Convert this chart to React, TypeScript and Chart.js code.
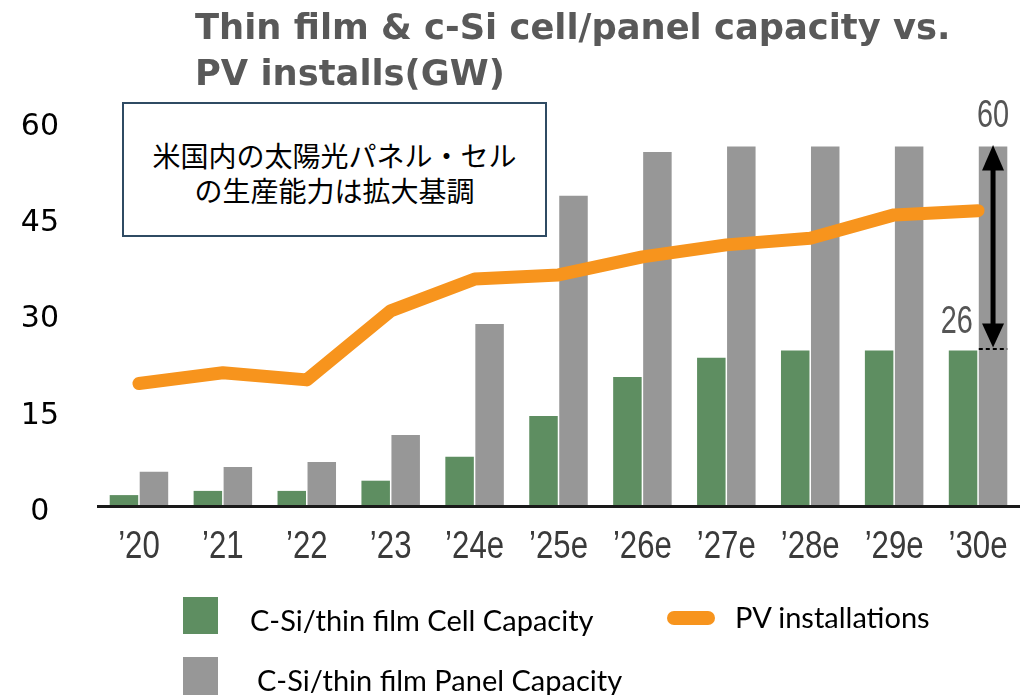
import React, { useEffect, useRef } from "react";
import { Chart, registerables } from "chart.js";

Chart.register(...registerables);

// ---- data ----
const categories = ["’20", "’21", "’22", "’23", "’24e", "’25e", "’26e", "’27e", "’28e", "’29e", "’30e"];
const cellCapacity = [1.9, 2.6, 2.6, 4.3, 8.3, 15.1, 21.6, 24.8, 26, 26, 26];
const panelCapacity = [5.8, 6.6, 7.4, 11.9, 30.4, 51.8, 59.1, 60, 60, 60, 60];
const pvInstallations = [20.5, 22.3, 21.1, 32.6, 37.9, 38.6, 41.6, 43.6, 44.7, 48.6, 49.3];
const yTickLabels = [0, 15, 30, 45, 60];
const gapAnnotation = [60, 26];

const titleLines = ["Thin film & c-Si cell/panel capacity vs.", "PV installs(GW)"];
const noteLines = ["米国内の太陽光パネル・セル", "の生産能力は拡大基調"];
const seriesNames = ["C-Si/thin film Cell Capacity", "C-Si/thin film Panel Capacity", "PV installations"];

const GREEN = "#5e8e61";
const GREY = "#979797";
const ORANGE = "#f7941d";
const SANS = "'Liberation Sans', Arial, sans-serif";

// condensed text helper (emulates a narrow face)
function narrowText(ctx: any, text: string, x: number, y: number, size: number, sx: number, align: string) {
  ctx.save();
  ctx.translate(x, y);
  ctx.scale(sx, 1);
  ctx.font = `${size}px ${SANS}`;
  ctx.textAlign = align;
  ctx.textBaseline = "alphabetic";
  ctx.fillText(text, 0, 0);
  ctx.restore();
}

const narrowXLabels = {
  id: "narrowXLabels",
  afterDraw(chart: any) {
    const xs = chart.scales.x;
    const ctx = chart.ctx;
    ctx.save();
    ctx.fillStyle = "#3a3a3a";
    xs.ticks.forEach((t: any, i: number) => {
      const px = xs.getPixelForTick(i);
      narrowText(ctx, String(xs.getLabelForValue(t.value)), px, xs.top + 44, 39, 0.8, "center");
    });
    ctx.restore();
  },
};

const gapPlugin = {
  id: "gapArrow",
  afterDatasetsDraw(chart: any) {
    const ctx = chart.ctx;
    const y = chart.scales.y;
    const meta = chart.getDatasetMeta(2);
    const idx = categories.length - 1;
    const bar: any = meta.data[idx];
    if (!bar) return;
    const x = bar.x;
    const w = bar.width;
    const yTop = y.getPixelForValue(gapAnnotation[0]);
    const yBot = y.getPixelForValue(gapAnnotation[1]);
    ctx.save();
    ctx.fillStyle = "#000";
    ctx.strokeStyle = "#000";
    ctx.lineWidth = 5;
    ctx.beginPath();
    ctx.moveTo(x, yTop + 20);
    ctx.lineTo(x, yBot - 22);
    ctx.stroke();
    ctx.beginPath();
    ctx.moveTo(x, yTop - 1.5);
    ctx.lineTo(x - 11, yTop + 24);
    ctx.lineTo(x + 11, yTop + 24);
    ctx.closePath();
    ctx.fill();
    ctx.beginPath();
    ctx.moveTo(x, yBot - 3);
    ctx.lineTo(x - 11, yBot - 27);
    ctx.lineTo(x + 11, yBot - 27);
    ctx.closePath();
    ctx.fill();
    ctx.setLineDash([4, 3]);
    ctx.lineWidth = 2;
    ctx.beginPath();
    ctx.moveTo(x - w / 2, yBot - 1.5);
    ctx.lineTo(x + w / 2, yBot - 1.5);
    ctx.stroke();
    ctx.setLineDash([]);
    ctx.fillStyle = "#555555";
    narrowText(ctx, String(gapAnnotation[0]), x, yTop - 19.5, 38, 0.76, "center");
    narrowText(ctx, String(gapAnnotation[1]), x - w / 2 - 6, yBot - 17.5, 38, 0.76, "right");
    ctx.restore();
  },
};

export default function App() {
  const canvasRef = useRef<HTMLCanvasElement | null>(null);

  useEffect(() => {
    const canvas = canvasRef.current;
    if (!canvas) return;
    const chart = new Chart(canvas, {
      type: "bar",
      data: {
        labels: categories,
        datasets: [
          {
            type: "line",
            label: seriesNames[2],
            data: pvInstallations,
            borderColor: ORANGE,
            backgroundColor: ORANGE,
            borderWidth: 13,
            pointRadius: 0,
            tension: 0,
            borderCapStyle: "round",
            borderJoinStyle: "round",
            yAxisID: "y",
            order: 0,
          } as any,
          {
            type: "bar",
            label: seriesNames[0],
            data: cellCapacity,
            backgroundColor: GREEN,
            yAxisID: "y",
            order: 1,
            categoryPercentage: 0.715,
            barPercentage: 0.95,
          },
          {
            type: "bar",
            label: seriesNames[1],
            data: panelCapacity,
            backgroundColor: GREY,
            yAxisID: "y",
            order: 1,
            categoryPercentage: 0.715,
            barPercentage: 0.95,
          },
        ],
      },
      options: {
        responsive: false,
        animation: false,
        devicePixelRatio: 1,
        layout: { padding: { left: 0, right: 9, top: 110, bottom: 121 } },
        plugins: { legend: { display: false }, tooltip: { enabled: false } },
        scales: {
          x: {
            offset: true,
            grid: { display: false, drawTicks: false },
            border: { display: false },
            ticks: { display: false, autoSkip: false, maxRotation: 0 },
            afterFit: (s: any) => {
              s.height = 60;
            },
          },
          y: {
            position: "left",
            min: -1.25,
            max: 66.08,
            ticks: { display: false },
            grid: { drawTicks: false, lineWidth: 3, color: "#1a1a1a" },
            border: { display: false },
            afterBuildTicks: (s: any) => {
              s.ticks = [{ value: 0 }];
            },
            afterFit: (s: any) => {
              s.width = 0;
            },
          },
          y2: {
            position: "left",
            min: -0.312,
            max: 62.65,
            grid: { display: false, drawTicks: false },
            border: { display: false },
            afterBuildTicks: (s: any) => {
              s.ticks = yTickLabels.map((v) => ({ value: v }));
            },
            afterFit: (s: any) => {
              s.width = 97;
            },
            ticks: {
              font: { family: "'DejaVu Sans', sans-serif", size: 30 },
              color: "#000",
              padding: 38,
              crossAlign: "center",
            },
          },
        },
      } as any,
      plugins: [gapPlugin, narrowXLabels],
    });
    return () => chart.destroy();
  }, []);

  const legendText: React.CSSProperties = {
    position: "absolute",
    font: "29px Lato, 'Open Sans', sans-serif",
    color: "#000",
    whiteSpace: "nowrap",
    lineHeight: "34px",
  };

  return (
    <div style={{ position: "fixed", left: 0, top: 0, width: 1029, height: 695, background: "#fff", overflow: "hidden" }}>
      <canvas ref={canvasRef} width={1029} height={695} style={{ position: "absolute", left: 0, top: 0 }} />
      <div
        style={{
          position: "absolute",
          left: 195,
          top: 4,
          font: "bold 35.3px 'DejaVu Sans', sans-serif",
          color: "#595959",
          lineHeight: "46px",
          whiteSpace: "nowrap",
        }}
      >
        {titleLines[0]}
        <br />
        {titleLines[1]}
      </div>
      <div
        style={{
          position: "absolute",
          left: 122,
          top: 102,
          width: 425,
          height: 135,
          boxSizing: "border-box",
          border: "2px solid #2f4b63",
          background: "#fff",
          display: "flex",
          flexDirection: "column",
          justifyContent: "center",
          alignItems: "center",
          paddingTop: 6,
          font: "28px 'Noto Sans CJK JP', sans-serif",
          lineHeight: "35px",
          color: "#000",
        }}
      >
        <div>{noteLines[0]}</div>
        <div>{noteLines[1]}</div>
      </div>
      <div style={{ position: "absolute", left: 183, top: 597, width: 35, height: 37, background: GREEN }} />
      <div style={{ ...legendText, left: 250, top: 603 }}>{seriesNames[0]}</div>
      <div style={{ position: "absolute", left: 183, top: 657, width: 35, height: 40, background: GREY }} />
      <div style={{ ...legendText, left: 257, top: 663 }}>{seriesNames[1]}</div>
      <div style={{ position: "absolute", left: 667, top: 611, width: 48, height: 14, borderRadius: 7, background: ORANGE }} />
      <div style={{ ...legendText, left: 735, top: 600 }}>{seriesNames[2]}</div>
    </div>
  );
}
